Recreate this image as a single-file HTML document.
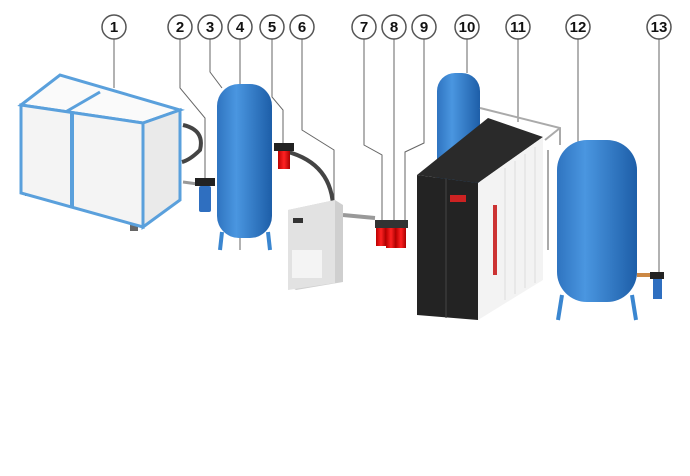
<!DOCTYPE html>
<html><head><style>
html,body{margin:0;padding:0;background:#fff;}
svg{display:block;}
text{font-family:"Liberation Sans",sans-serif;font-weight:bold;font-size:15px;}
</style></head><body>
<svg width="690" height="476" viewBox="0 0 690 476" xmlns="http://www.w3.org/2000/svg">
<defs>
<linearGradient id="tb" x1="0" x2="1" y1="0" y2="0">
<stop offset="0" stop-color="#2f74c0"/><stop offset="0.35" stop-color="#4a96e0"/><stop offset="1" stop-color="#1d5ea8"/>
</linearGradient>
<linearGradient id="rd" x1="0" x2="1"><stop offset="0" stop-color="#b00"/><stop offset=".5" stop-color="#f22"/><stop offset="1" stop-color="#a00"/></linearGradient>
</defs>
<g stroke="#666" stroke-width="1" fill="none">
<path d="M114 39V88"/>
<path d="M180 39V88L205 118V180"/>
<path d="M210 39V72L222 88"/>
<path d="M240 39V250"/>
<path d="M272 39V97L283 110V145"/>
<path d="M302 39V130L334 150V205"/>
<path d="M364 39V145L382 155V220"/>
<path d="M394 39V222"/>
<path d="M424 39V143L405 152V225"/>
<path d="M467 39V73"/>
<path d="M518 39V122"/>
<path d="M578 39V142"/>
<path d="M659 39V292"/>
</g>
<!-- compressor -->
<rect x="25" y="190" width="8" height="6" fill="#666"/>
<rect x="130" y="225" width="8" height="6" fill="#666"/>
<polygon points="21,105 60,75 180,110 143,123" fill="#fafafa" stroke="#5aa0dc" stroke-width="3"/>
<line x1="100" y1="92" x2="62" y2="114" stroke="#5aa0dc" stroke-width="3"/>
<polygon points="21,105 143,123 143,227 21,193" fill="#f4f4f4" stroke="#5aa0dc" stroke-width="3"/>
<polygon points="143,123 180,110 180,200 143,227" fill="#eaeaea" stroke="#5aa0dc" stroke-width="3"/>
<line x1="72" y1="112" x2="72" y2="208" stroke="#5aa0dc" stroke-width="4"/>
<path d="M183 125Q205 130 200 150Q190 160 182 162" stroke="#444" stroke-width="4" fill="none"/>
<path d="M280 150Q330 160 333 205" stroke="#444" stroke-width="4" fill="none"/>
<path d="M343 215L375 218" stroke="#999" stroke-width="4" fill="none"/>
<path d="M183 182L205 185" stroke="#999" stroke-width="3"/>
<rect x="195" y="178" width="20" height="8" fill="#222"/>
<rect x="199" y="186" width="12" height="26" rx="2" fill="#2f6fc0"/>
<rect x="217" y="84" width="55" height="154" rx="22" fill="url(#tb)"/>
<path d="M222 232L220 250M268 232L270 250" stroke="#3a86d0" stroke-width="4"/>
<rect x="274" y="143" width="20" height="8" fill="#222"/>
<rect x="278" y="151" width="12" height="18" fill="url(#rd)"/>
<!-- dryer -->
<polygon points="288,210 335,200 343,205 343,282 296,290 288,285" fill="#cfcfcf"/>
<polygon points="288,210 335,200 335,283 288,290" fill="#e2e2e2"/>
<rect x="292" y="250" width="30" height="28" fill="#f4f4f4"/>
<rect x="293" y="218" width="10" height="5" fill="#333"/>
<rect x="437" y="73" width="43" height="130" rx="18" fill="url(#tb)"/>
<path d="M480 108L560 128V145M545 140L560 128" stroke="#aaa" stroke-width="2" fill="none"/>
<path d="M548 150V250" stroke="#aaa" stroke-width="2"/>
<!-- cabinet -->
<polygon points="417,175 478,183 543,137 488,118" fill="#2a2a2a"/>
<polygon points="417,175 478,183 478,320 417,315" fill="#232323"/>
<line x1="446" y1="179" x2="446" y2="318" stroke="#444" stroke-width="1"/>
<polygon points="478,183 543,137 543,280 478,320" fill="#f3f3f3"/>
<g stroke="#ddd" stroke-width="1"><path d="M505 168V300M515 161V294M525 154V288M535 147V283"/></g>
<rect x="450" y="195" width="16" height="7" fill="#c22"/>
<rect x="493" y="205" width="4" height="70" fill="#c33"/>
<g fill="url(#rd)"><rect x="376" y="226" width="10" height="20"/><rect x="386" y="228" width="10" height="20"/><rect x="396" y="228" width="10" height="20"/></g>
<rect x="375" y="220" width="33" height="8" fill="#333"/>
<rect x="557" y="140" width="80" height="162" rx="30" fill="url(#tb)"/>
<path d="M562 295L558 320M632 295L636 320" stroke="#3a86d0" stroke-width="4"/>
<path d="M637 275H652" stroke="#c84" stroke-width="4"/>
<rect x="650" y="272" width="14" height="7" fill="#222"/>
<rect x="653" y="279" width="9" height="20" fill="#2f6fc0"/>
<g fill="#fff" stroke="#555" stroke-width="1.5">
<circle cx="114" cy="27" r="12"/><circle cx="180" cy="27" r="12"/><circle cx="210" cy="27" r="12"/>
<circle cx="240" cy="27" r="12"/><circle cx="272" cy="27" r="12"/><circle cx="302" cy="27" r="12"/>
<circle cx="364" cy="27" r="12"/><circle cx="394" cy="27" r="12"/><circle cx="424" cy="27" r="12"/>
<circle cx="467" cy="27" r="12"/><circle cx="518" cy="27" r="12"/><circle cx="578" cy="27" r="12"/>
<circle cx="659" cy="27" r="12"/>
</g>
<g fill="#111" text-anchor="middle">
<text x="114" y="32">1</text><text x="180" y="32">2</text><text x="210" y="32">3</text>
<text x="240" y="32">4</text><text x="272" y="32">5</text><text x="302" y="32">6</text>
<text x="364" y="32">7</text><text x="394" y="32">8</text><text x="424" y="32">9</text>
<text x="467" y="32">10</text><text x="518" y="32">11</text><text x="578" y="32">12</text>
<text x="659" y="32">13</text>
</g>
</svg>
</body></html>
